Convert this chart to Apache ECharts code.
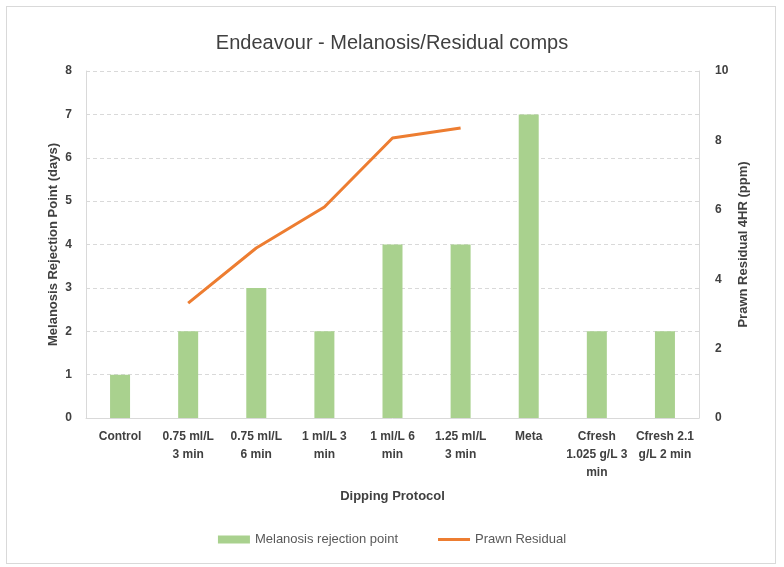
<!DOCTYPE html>
<html><head><meta charset="utf-8">
<script src="https://cdn.jsdelivr.net/npm/echarts@6/dist/echarts.min.js"></script>
<style>html,body{margin:0;padding:0;background:#fff}#c{width:784px;height:567px}
#frame{position:absolute;left:6px;top:6px;width:768px;height:556px;border:1px solid #d9d9d9;pointer-events:none}</style>
</head><body><div id="c"></div><div id="frame"></div>
<script>
var categories = ["Control","0.75 ml/L 3 min","0.75 ml/L 6 min","1 ml/L 3 min","1 ml/L 6 min","1.25 ml/L 3 min","Meta","Cfresh 1.025 g/L 3 min","Cfresh 2.1 g/L 2 min"];
var tickLabels = ["Control","0.75 ml/L\n3 min","0.75 ml/L\n6 min","1 ml/L 3\nmin","1 ml/L 6\nmin","1.25 ml/L\n3 min","Meta","Cfresh\n1.025 g/L 3\nmin","Cfresh 2.1\ng/L 2 min"];
var melanosis = [1,2,3,2,4,4,7,2,2];
var residual = [null,3.31,4.9,6.08,8.07,8.36,null,null,null];
var leftTicks = [0,1,2,3,4,5,6,7,8];
var rightTicks = [0,2,4,6,8,10];

var font = '"Liberation Sans", Arial, sans-serif';
var chart = echarts.init(document.getElementById('c'));
chart.setOption({
  animation:false,
  textStyle:{fontFamily:font},
  title:{text:'Endeavour - Melanosis/Residual comps',left:'center',top:28,textStyle:{fontFamily:font,fontSize:20,fontWeight:'normal',color:'#404040'}},
  legend:{bottom:16,left:'center',itemGap:40,itemWidth:32,itemHeight:8,textStyle:{fontFamily:font,fontSize:13,color:'#595959'},
    data:[{name:'Melanosis rejection point',icon:'rect'},{name:'Prawn Residual',icon:'path://M0,4 L32,4 L32,7 L0,7 Z'}]},
  grid:{left:86,right:85,top:71,bottom:149},
  xAxis:{type:'category',data:categories,
    axisLine:{show:true,lineStyle:{color:'#d9d9d9'}},axisTick:{show:false},
    axisLabel:{interval:0,fontWeight:'bold',fontSize:12,color:'#404040',lineHeight:18,margin:10,formatter:function(v,i){return tickLabels[i];}},
    name:'Dipping Protocol',nameLocation:'middle',nameGap:72,nameTextStyle:{fontWeight:'bold',fontSize:13,color:'#404040'}},
  yAxis:[
    {type:'value',min:leftTicks[0],max:leftTicks[leftTicks.length-1],interval:1,
     axisLine:{show:true,lineStyle:{color:'#d9d9d9'}},
     axisLabel:{fontWeight:'bold',fontSize:12,color:'#404040',margin:14},
     splitLine:{lineStyle:{color:'#d9d9d9',type:[4,3]}},
     nameMoveOverlap:false,
     name:'Melanosis Rejection Point (days)',nameLocation:'middle',nameGap:26,nameTextStyle:{fontWeight:'bold',fontSize:13,color:'#404040'}},
    {type:'value',min:rightTicks[0],max:rightTicks[rightTicks.length-1],interval:2,
     axisLine:{show:true,lineStyle:{color:'#d9d9d9'}},
     axisLabel:{fontWeight:'bold',fontSize:12,color:'#404040',margin:16},
     splitLine:{show:false},
     nameMoveOverlap:false,
     name:'Prawn Residual 4HR (ppm)',nameLocation:'middle',nameGap:38,nameRotate:90,nameTextStyle:{fontWeight:'bold',fontSize:13,color:'#404040'}}
  ],
  series:[
    {name:'Melanosis rejection point',type:'bar',data:melanosis,barWidth:20,itemStyle:{color:'#A9D18E'}},
    {name:'Prawn Residual',type:'line',yAxisIndex:1,data:residual,symbol:'none',lineStyle:{color:'#ED7D31',width:3},itemStyle:{color:'#ED7D31'}}
  ]
});
</script></body></html>
